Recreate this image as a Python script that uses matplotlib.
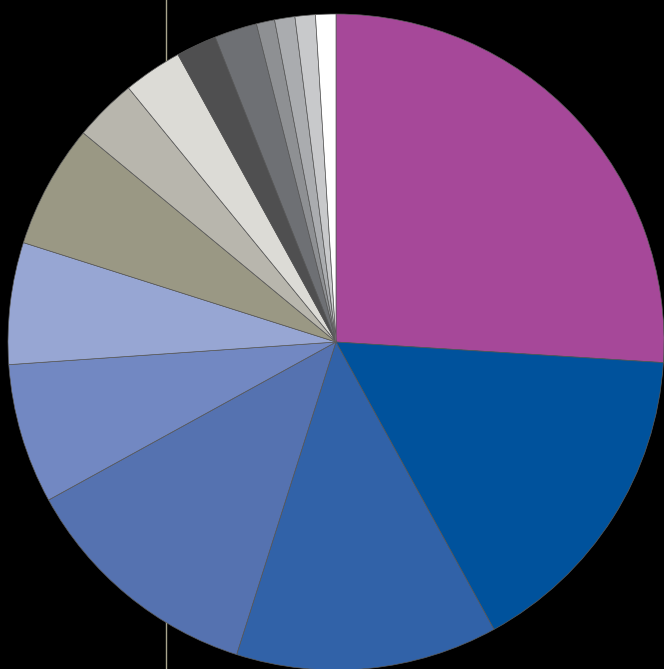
import matplotlib
matplotlib.use("Agg")
import matplotlib.pyplot as plt

categories = ["A", "B", "C", "D", "E", "F", "G", "H", "I", "J", "K", "L", "M", "N", "O"]
values = [26.0, 16.0, 12.9, 12.1, 6.9, 6.0, 6.1, 3.1, 2.9, 2.0, 2.1, 0.9, 1.0, 1.0, 1.0]
colors = ["#A64899", "#00529C", "#3162A8", "#5572B0", "#7288C2", "#97A6D3",
          "#9A9884", "#B8B6AD", "#DCDBD6", "#4F4F50", "#6E7074", "#8E9093",
          "#AAACAF", "#C8C9CB", "#FFFFFF"]

W, H = 664, 669
fig = plt.figure(figsize=(W / 100, H / 100), dpi=100, facecolor="black")
ax = fig.add_axes([0, 0, 1, 1])
ax.set_facecolor("black")
ax.set_xlim(0, W)
ax.set_ylim(0, H)
ax.set_aspect("equal")
ax.axis("off")

ax.axvline(165.5, color="#A8A48C", linewidth=1.0, zorder=0)

ax.pie(values, colors=colors, startangle=90, counterclock=False,
       center=(336, H - 342), radius=328, frame=True,
       wedgeprops=dict(edgecolor="#5a5a5a", linewidth=0.5, zorder=2))
ax.set_xlim(0, W)
ax.set_ylim(0, H)
ax.axis("off")

fig.savefig("out.png", dpi=100, facecolor="black")
